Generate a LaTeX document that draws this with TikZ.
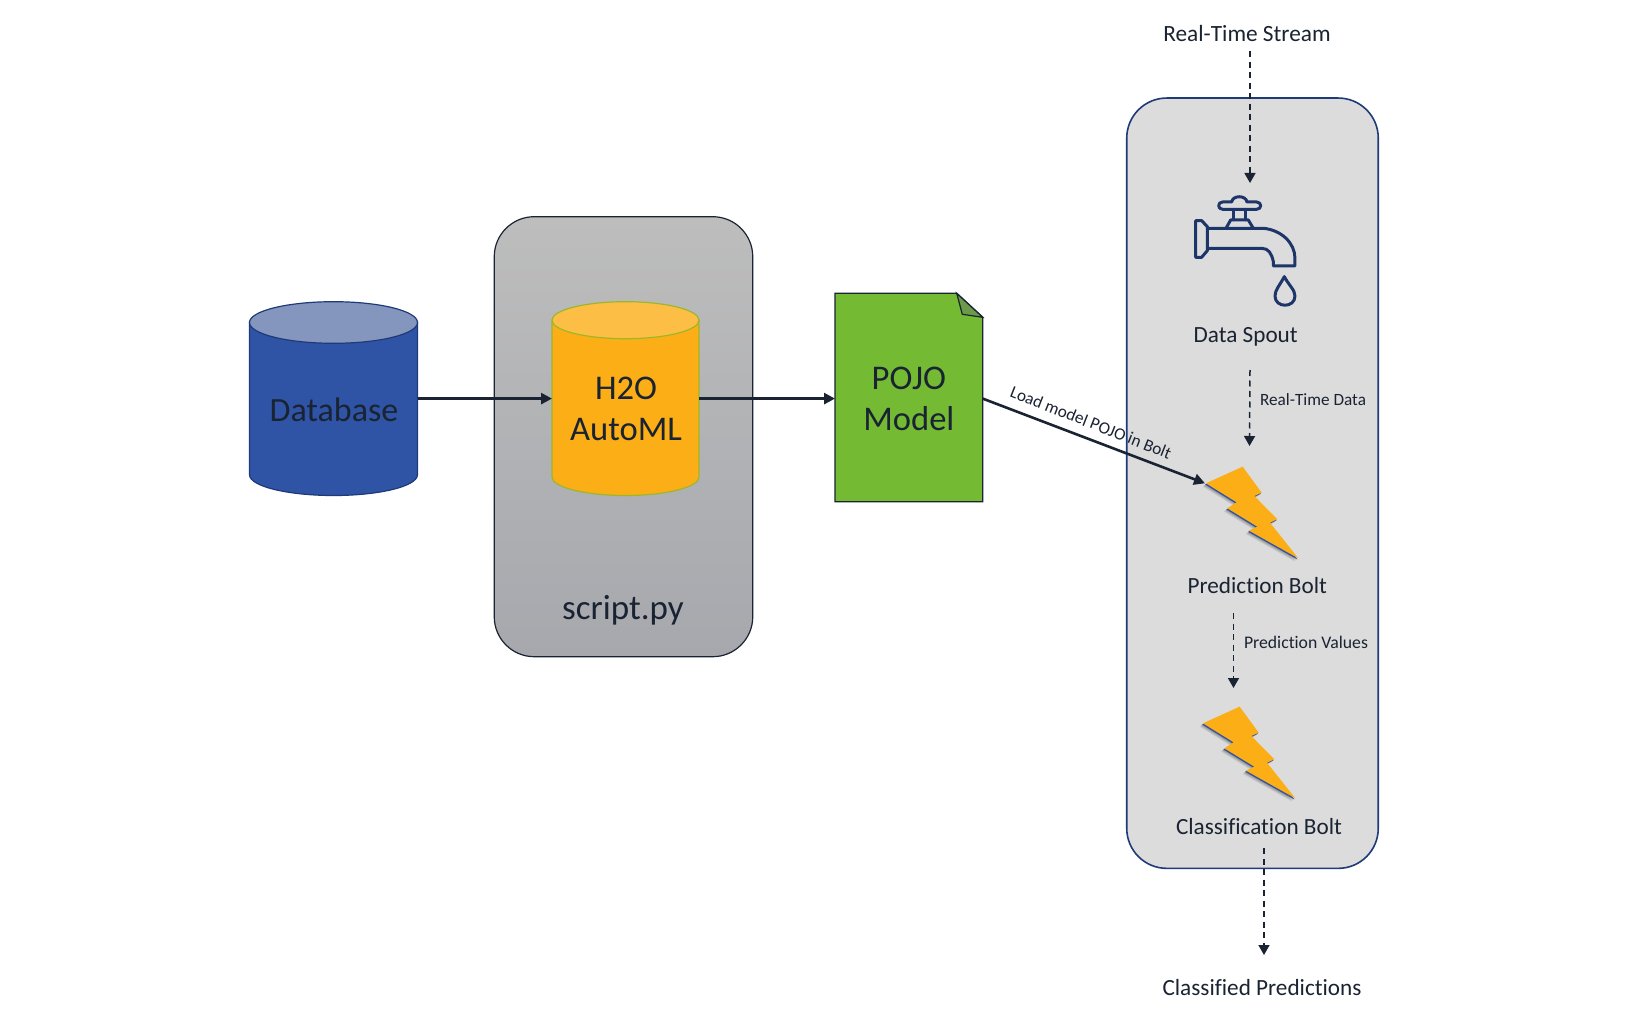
\documentclass[tikz,border=0pt]{standalone}
\usepackage{fontspec}
\setmainfont{Carlito}[Ligatures=NoCommon]
\usetikzlibrary{arrows.meta,calc}
\definecolor{ink}{HTML}{1A2332}
\definecolor{navy}{HTML}{1F3A78}
\definecolor{dbblue}{HTML}{2F54A5}
\definecolor{dbtop}{HTML}{8496BE}
\definecolor{amber}{HTML}{FCAE16}
\definecolor{ambertop}{HTML}{FDBE45}
\definecolor{leaf}{HTML}{74BB33}
\definecolor{leafdark}{HTML}{6C9A48}
\definecolor{panel}{HTML}{DCDCDC}
\definecolor{boxtop}{HTML}{BDBDBD}
\definecolor{boxbot}{HTML}{A6A8AD}
\tikzset{
  txt/.style={inner sep=0pt,outer sep=0pt,text=ink,align=center},
  solidarrow/.style={draw=ink,line width=2.6pt,-{Triangle[length=11pt,width=11pt]}},
  dasharrow/.style={draw=ink,line width=1.5pt,dash pattern=on 6pt off 4.5pt,-{Triangle[length=10pt,width=11pt]}},
  anchorbox/.style={rectangle,inner sep=0pt,outer sep=0pt},
  tap/.style={draw=navy!80!ink,line width=3pt,line join=round,line cap=round,fill=none},
  boltfill/.style={fill=amber,draw=none},
}
% #1 centre x, #2 half width, #3 top y, #4 bottom y, #5 end radius, #6 line, #7 body, #8 end
\newcommand{\drumshape}[8]{%
  \filldraw[draw=#6,fill=#7,line width=1.2pt]
    (#1-#2,#3+#5) -- (#1-#2,#4-#5)
    arc[start angle=180,end angle=0,x radius=#2,y radius=#5]
    -- (#1+#2,#3+#5) -- cycle;
  \filldraw[draw=#6,fill=#8,line width=1.2pt] (#1,#3+#5) ellipse[x radius=#2,y radius=#5];}
\newcommand{\boltshape}{(318,130)--(428,80)--(485,158)--(463,168)--(532,238)--(510,248)--(595,355)--(447,272)--(472,260)--(382,205)--(410,187)--cycle}
\newcommand{\drawbolt}{%
  \foreach \d/\o in {10/.15,8/.18,6/.22,4/.3}{\fill[black!60,opacity=\o] [shift={(-\d,\d)}] \boltshape;}
  \fill[dbblue,shift={(-2.5,3.5)}] \boltshape;
  \path[boltfill] \boltshape;}
\begin{document}
\begin{tikzpicture}[x=1pt,y=-1pt]
\useasboundingbox (0,0) rectangle (1650,1016);
\fill[white] (0,0) rectangle (1650,1016);

% script box
\node[rectangle,rounded corners=40pt,draw=ink,line width=1.2pt,top color=boxtop,bottom color=boxbot,
  minimum width=258.5pt,minimum height=440pt,inner sep=0pt,outer sep=0pt] (scriptbox) at (623.5,436.7) {};
\node[txt,font=\fontsize{35}{38}\selectfont] (scriptlabel) at (623,610) {script.py};

% right panel
\node[rectangle,rounded corners=40pt,draw=navy,fill=panel,line width=1.6pt,
  minimum width=251.5pt,minimum height=770.3pt,inner sep=0pt,outer sep=0pt] (panel) at (1252.5,483.2) {};

% database
\drumshape{333.5}{84}{301.7}{495.5}{20.8}{navy}{dbblue}{dbtop}
\node[anchorbox,minimum width=168pt,minimum height=193.8pt] (db) at (333.5,398.6) {};
\node[txt,font=\fontsize{34}{36}\selectfont] (dblabel) at (334,410) {Database};

% H2O cylinder
\drumshape{625.5}{73.5}{301.7}{495.5}{18.5}{leaf!70!amber}{amber}{ambertop}
\node[anchorbox,minimum width=147pt,minimum height=193.8pt] (h2o) at (625.5,398.6) {};
\node[txt,font=\fontsize{34.6}{41}\selectfont] (h2olabel) at (626,408.5) {H2O\\AutoML};

% POJO document
\fill[leaf,draw=ink,line width=1.4pt] (835,293.3)--(956.7,293.3)--(982.7,317.3)--(982.7,501.7)--(835,501.7)--cycle;
\filldraw[fill=leafdark,draw=ink,line width=1.2pt] (956.7,293.3)--(982.7,317.3)--(962.3,314.3)--cycle;
\node[anchorbox,minimum width=147.7pt,minimum height=208.4pt] (pojo) at (908.85,398.6) {};
\node[txt,font=\fontsize{34.6}{41}\selectfont] (pojolabel) at (908.85,399) {POJO\\Model};

% bolts
\begin{scope}[shift={(1100,440)},x=0.3333pt,y=-0.3333pt]
  \drawbolt
\end{scope}
\begin{scope}[shift={(1097,680)},x=0.3333pt,y=-0.3333pt]
  \drawbolt
\end{scope}
\coordinate (boltA) at (1205,483.3);

% faucet
\begin{scope}[shift={(1100,0)},x=0.3333pt,y=-0.3333pt]
  \draw[tap] (287,662)--(305,662)--(322,680)--(322,752)--(305,772)--(287,772)--cycle;
  \draw[tap] (322,685)--(490,685) .. controls (545,690) and (585,730) .. (585,775)--(585,798)--(520,798)--(520,785) .. controls (515,760) and (505,745) .. (485,745)--(322,745);
  \draw[tap] (378,685)--(392,660)--(445,660)--(460,685);
  \draw[tap] (400,660)--(400,628) (438,660)--(438,628);
  \draw[tap] (368,606)--(395,606) .. controls (398,585) and (438,585) .. (441,606)--(470,606) .. controls (486,606) and (486,628) .. (470,628)--(368,628) .. controls (352,628) and (352,606) .. (368,606)--cycle;
  \draw[tap] (553,830) .. controls (540,855) and (525,870) .. (525,888) .. controls (525,925) and (585,925) .. (585,888) .. controls (585,870) and (566,855) .. (553,830)--cycle;
\end{scope}

% labels panel
\node[txt,font=\fontsize{23.3}{28}\selectfont] (stream) at (1247,33) {Real-Time Stream};
\coordinate (spoutin) at (1250,183);
\node[txt,font=\fontsize{23.2}{28}\selectfont] (spout) at (1245.7,336.5) {Data Spout};
\node[txt,font=\fontsize{17.2}{20}\selectfont,anchor=west] (rtdata) at (1260,399.5) {Real-Time Data};
\coordinate (a2s) at (1250,370);
\coordinate (a2e) at (1249.5,446);
\node[txt,font=\fontsize{23.2}{28}\selectfont] (predbolt) at (1257.3,586) {Prediction Bolt};
\coordinate (a3s) at (1233.5,613);
\coordinate (a3e) at (1233.5,688);
\node[txt,font=\fontsize{17.7}{20}\selectfont,anchor=west] (predvals) at (1244,642.5) {Prediction Values};
\node[txt,font=\fontsize{23.2}{28}\selectfont] (classbolt) at (1259,827) {Classification Bolt};
\coordinate (a4s) at (1264,848);
\coordinate (a4e) at (1264,955);
\node[txt,font=\fontsize{23.2}{28}\selectfont] (classpred) at (1262,988) {Classified Predictions};

% connectors
\draw[solidarrow] (db.east) -- (h2o.west);
\draw[solidarrow] (h2o.east) -- (pojo.west);
\draw[solidarrow] (pojo.east) -- (boltA);
\node[txt,rotate=-21.6,font=\fontsize{17.2}{20}\selectfont] (loadlabel) at (1091,422.5) {Load model POJO in Bolt};
\draw[dasharrow] (stream.south -| spoutin) ++(0,10) -- (spoutin);
\draw[dasharrow] (a2s) -- (a2e);
\draw[dasharrow] (a3s) -- (a3e);
\draw[dasharrow] (a4s) -- (a4e);
\end{tikzpicture}
\end{document}
